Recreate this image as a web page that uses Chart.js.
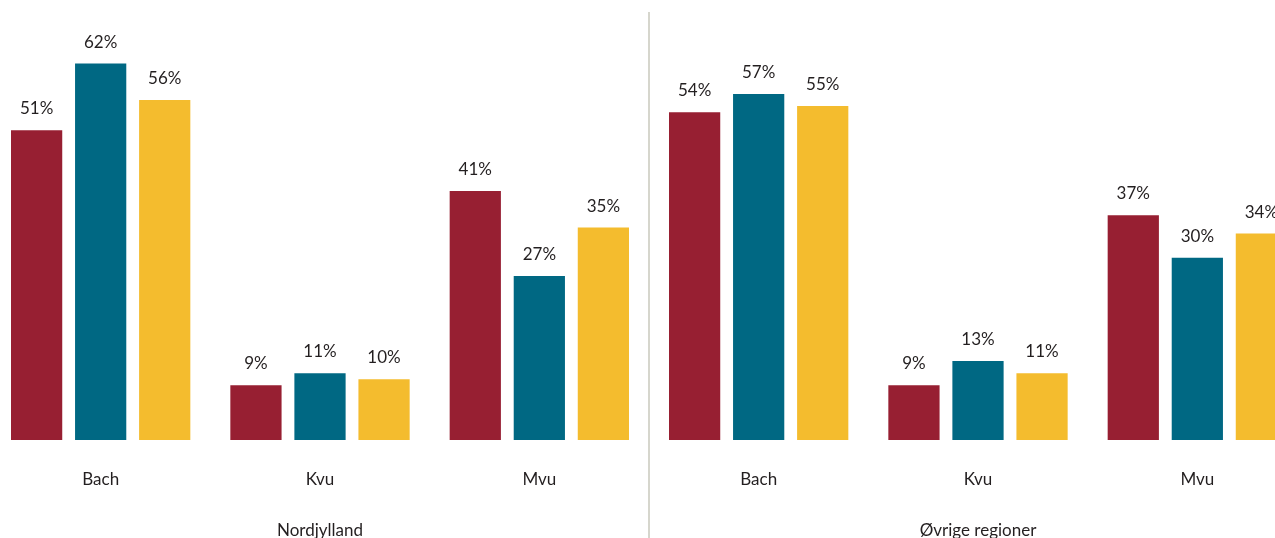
<!DOCTYPE html>
<html>
<head>
<meta charset="utf-8">
<script src="https://cdn.jsdelivr.net/npm/chart.js@4"></script>
<style>
html,body{margin:0;padding:0;background:#fff;overflow:hidden;width:1275px;height:538px;}
#wrap{position:absolute;left:-9px;top:0;width:1316px;height:538px;}
</style>
</head>
<body>
<div id="wrap"><canvas id="c" width="1316" height="538"></canvas></div>
<script>
const categories = ["Bach", "Kvu", "Mvu", "Bach", "Kvu", "Mvu"];
const groups = ["Nordjylland", "Øvrige regioner"];
const seriesRed = [51, 9, 41, 54, 9, 37];
const seriesTeal = [62, 11, 27, 57, 13, 30];
const seriesYellow = [56, 10, 35, 55, 11, 34];

const FONT = "Lato, 'Open Sans', sans-serif";
const TEXT = "#231f20";

const labelPlugin = {
  id: 'valLabels',
  afterDatasetsDraw(chart) {
    const ctx = chart.ctx;
    ctx.save();
    ctx.font = "17px " + FONT;
    ctx.fillStyle = TEXT;
    ctx.textAlign = 'center';
    ctx.textBaseline = 'alphabetic';
    chart.data.datasets.forEach((ds, i) => {
      const meta = chart.getDatasetMeta(i);
      meta.data.forEach((el, j) => {
        ctx.fillText(ds.data[j] + '%', el.x, el.y - 16);
      });
    });
    ctx.restore();
  }
};

const sepPlugin = {
  id: 'separator',
  afterDraw(chart) {
    const x = chart.scales.x;
    const px = (x.getPixelForValue(2) + x.getPixelForValue(3)) / 2;
    const ctx = chart.ctx;
    ctx.save();
    ctx.strokeStyle = '#d6d6cd';
    ctx.lineWidth = 2;
    ctx.beginPath();
    ctx.moveTo(px, 12);
    ctx.lineTo(px, chart.height);
    ctx.stroke();
    ctx.restore();
  }
};

new Chart(document.getElementById('c'), {
  type: 'bar',
  data: {
    labels: categories,
    datasets: [
      { data: seriesRed, backgroundColor: '#971f32' },
      { data: seriesTeal, backgroundColor: '#006883' },
      { data: seriesYellow, backgroundColor: '#f4bc2e' }
    ]
  },
  options: {
    responsive: false,
    animation: false,
    devicePixelRatio: 1,
    categoryPercentage: 0.876,
    barPercentage: 0.8,
    layout: { padding: { top: 15, left: 0, right: 0, bottom: 0 } },
    plugins: { legend: { display: false }, tooltip: { enabled: false } },
    scales: {
      y: { display: false, min: 0, max: 70 },
      x: {
        position: 'bottom',
        grid: { display: false },
        border: { display: false },
        ticks: { font: { family: FONT, size: 17 }, color: TEXT, padding: 21, maxRotation: 0 },
        afterFit(s) { s.height = 60; }
      },
      g: {
        type: 'category',
        position: 'bottom',
        labels: groups,
        offset: true,
        grid: { display: false },
        border: { display: false },
        ticks: { font: { family: FONT, size: 17 }, color: TEXT, padding: 12, maxRotation: 0 },
        afterFit(s) { s.height = 38; }
      }
    }
  },
  plugins: [labelPlugin, sepPlugin]
});
</script>
</body>
</html>
